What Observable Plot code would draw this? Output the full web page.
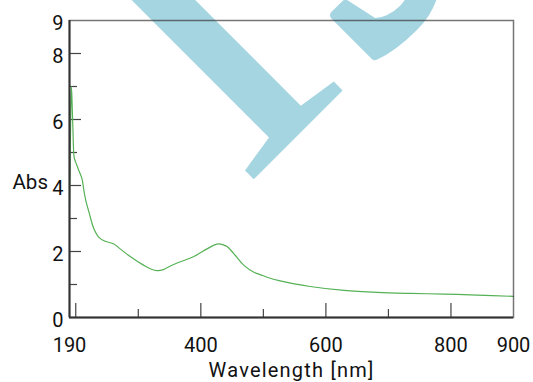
<!DOCTYPE html>
<html>
<head>
<meta charset="utf-8">
<script src="https://cdn.jsdelivr.net/npm/d3@7"></script>
<script src="https://cdn.jsdelivr.net/npm/@observablehq/plot@0.6"></script>
<style>
  html, body { margin: 0; padding: 0; background: white; }
  #chart { width: 533px; height: 382px; overflow: hidden; }
</style>
</head>
<body>
<div id="chart"></div>
<script>
// Spectrum
const wavelength = [190, 191, 192, 193, 194, 195.5, 197.5, 200, 205, 210, 213, 216, 221, 229, 237, 247, 261, 271, 287, 309, 320, 330, 340, 346, 362, 389, 410, 422, 429, 436, 442, 453, 469, 485, 495, 506, 527, 575, 629, 682, 735, 789, 842, 900];
const absorbance = [3.35, 4.6, 6.2, 7.0, 6.6, 5.7, 4.85, 4.7, 4.45, 4.2, 3.85, 3.55, 3.2, 2.69, 2.43, 2.31, 2.23, 2.08, 1.85, 1.58, 1.47, 1.42, 1.45, 1.51, 1.65, 1.85, 2.08, 2.2, 2.23, 2.2, 2.15, 1.93, 1.58, 1.37, 1.30, 1.22, 1.11, 0.94, 0.82, 0.76, 0.73, 0.71, 0.68, 0.64];

const xTickLabels = [190, 400, 600, 800, 900];
const yTickLabels = [0, 2, 4, 6, 8, 9];
const xMajorTicks = [200, 400, 600, 800];
const xMinorTicks = [300, 500, 700];
const yMajorTicks = [2, 4, 6, 8];
const yMinorTicks = [1, 3, 5, 7];
const xTitle = ["Wavelength [nm]"];
const yTitle = ["Abs"];
const yTitleAt = [4];
const watermarkA = ["I"];
const watermarkB = ["J"];

const data = wavelength.map((w, i) => ({w, a: absorbance[i]}));

const W = 533, H = 382, mL = 69, mR = 20, mT = 20, mB = 65;
const pw = W - mL - mR, ph = H - mT - mB;
const wmColor = "#a6d5e2";
const wm = {rotate: -45, textAnchor: "start", lineAnchor: "bottom", fontSize: 480,
            fontFamily: "Liberation Serif", fill: wmColor, frameAnchor: "top-left"};

const chart = Plot.plot({
  width: W, height: H,
  marginLeft: mL, marginRight: mR, marginTop: mT, marginBottom: mB,
  style: {fontFamily: "Roboto, sans-serif", fontSize: "20px", color: "#111", background: "white", overflow: "hidden"},
  x: {domain: [190, 900]},
  y: {domain: [0, 9]},
  marks: [
    // decorative watermark (large rotated serif glyphs)
    Plot.text(watermarkA, {...wm, dx: 241 - mL, dy: 191 - mT}),
    Plot.text(watermarkB, {...wm, dx: 369 - mL, dy: 64 - mT, stroke: wmColor, strokeWidth: 9, strokeLinejoin: "round"}),
    Plot.tickY(yMajorTicks, {insetRight: pw - 12, stroke: "#444", strokeWidth: 1.2}),
    Plot.tickY(yMinorTicks, {insetRight: pw - 8, stroke: "#444", strokeWidth: 1.2}),
    Plot.tickX(xMajorTicks, {insetTop: ph - 14, stroke: "#444", strokeWidth: 1.2}),
    Plot.tickX(xMinorTicks, {insetTop: ph - 8, stroke: "#444", strokeWidth: 1.2}),
    Plot.line(data, {x: "w", y: "a", curve: "catmull-rom", stroke: "#55b155", strokeWidth: 1.2}),
    Plot.frame({stroke: "#333", strokeOpacity: 0.67, strokeWidth: 1.5}),
    Plot.ruleX([190], {stroke: "#333", strokeWidth: 2}),
    Plot.ruleY([0], {stroke: "#333", strokeWidth: 2}),
    Plot.axisX(xTickLabels, {tickSize: 0, tickPadding: 20, label: null, fontSize: 20, fill: "#111"}),
    Plot.axisY(yTickLabels, {tickSize: 0, tickPadding: 6, dy: 3, label: null, fontSize: 20, fill: "#111"}),
    Plot.text(xTitle, {frameAnchor: "bottom", dy: 52.6, lineAnchor: "middle", fontSize: 20, fill: "#111"}),
    Plot.text(yTitle, {x: () => 190, y: yTitleAt, dx: -57, dy: -3, textAnchor: "start", fontSize: 20.5, fill: "#111"})
  ]
});
d3.select(chart).selectAll("text").filter(function() { return this.textContent === xTitle[0]; })
  .style("letter-spacing", "1.2px");
document.getElementById("chart").append(chart);
</script>
</body>
</html>
